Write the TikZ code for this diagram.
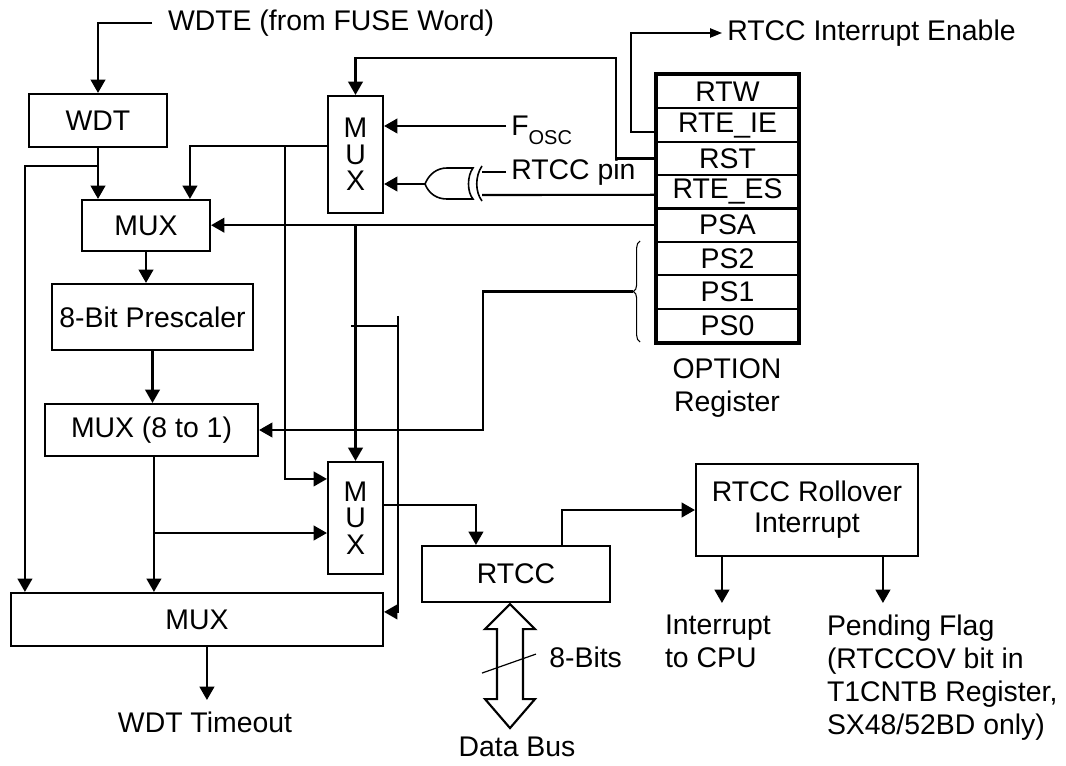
\documentclass[tikz,border=0pt]{standalone}
\usepackage{fontspec}
\setmainfont{Liberation Sans}
\usetikzlibrary{arrows.meta,calc,decorations.pathreplacing}

\tikzset{
  blk/.style={draw, line width=1.6pt, inner sep=0pt, align=center},
  lbl/.style={inner sep=0pt, outer sep=4pt, align=left},
  wire/.style={line width=1.6pt},
  thinwire/.style={line width=1pt},
  arr/.style={line width=1.6pt, -{Triangle[length=10pt,width=11pt]}},
  smallarr/.style={line width=1pt, -{Triangle[length=9pt,width=7pt]}},
  muxfont/.style={font=\fontsize{21.3}{20}\selectfont},
}

\begin{document}
\begin{tikzpicture}[x=0.75pt,y=-0.75pt,font=\fontsize{21.3}{24.8}\selectfont]
\useasboundingbox (0,0) rectangle (1066,766);
% blocks
\node[blk, minimum width=103.5pt, minimum height=39.75pt] (wdt) at (98,120.5) {WDT};
\node[blk, minimum width=96pt, minimum height=38.25pt] (mux1) at (146,225.5) {MUX};
\node[blk, minimum width=150.75pt, minimum height=49.5pt] (pre) at (152.5,317) {8-Bit Prescaler};
\node[blk, minimum width=159.75pt, minimum height=39pt] (mux8) at (151.5,430) {MUX (8 to 1)};
\node[blk, muxfont, minimum width=41.25pt, minimum height=87.75pt] (muxa) at (355.5,154.5) {M\\U\\X};
\node[blk, muxfont, minimum width=41.25pt, minimum height=84pt] (muxb) at (355.5,518) {M\\U\\X};
\node[blk, minimum width=279pt, minimum height=39.75pt] (muxw) at (197,619.5) {MUX};
\node[blk, minimum width=141pt, minimum height=42pt] (rtcc) at (516,574) {RTCC};
\node[blk, font=\fontsize{21.3}{23.3}\selectfont, minimum width=166.5pt, minimum height=69pt] (roll) at (807,510) {RTCC Rollover\\Interrupt};

% OPTION register
\foreach \t [count=\i] in {RTW,RTE\_IE,RST,RTE\_ES,PSA,PS2,PS1,PS0}
  \node[draw, line width=1.6pt, inner sep=0pt, minimum width=105.75pt, minimum height=25.03pt] (r\i) at (727.5,{75+33.375*(\i-0.5)}) {\t};
\draw[line width=2.4pt] (r1.north west) rectangle (r8.south east);
\node[align=center] (optl) at (727,388) {OPTION\\Register};

% labels
\node[lbl, anchor=west, outer sep=12pt] (wdte) at (152,23) {WDTE (from FUSE Word)};
\node[lbl, anchor=west] (fosc) at (506,126) {F\smash{\raisebox{-0.3em}{\fontsize{15}{15}\selectfont OSC}}};
\node[lbl, anchor=west] (pin) at (506,172) {RTCC pin};
\node[lbl, anchor=west] (rie) at (722,33) {RTCC Interrupt Enable};
\node[lbl, anchor=north, outer sep=9pt] (tmo) at (205,700) {WDT Timeout};
\node[lbl, anchor=north west, outer sep=9pt] (cpu) at (653,603) {Interrupt\\to CPU};
\node[lbl, anchor=north west, outer sep=9pt] (pend) at (815,603) {Pending Flag\\(RTCCOV bit in\\T1CNTB Register,\\SX48/52BD only)};
\node[lbl, anchor=west] (bits) at (544,657) {8-Bits};
\node (bus) at (517,747) {Data Bus};

% junctions
\coordinate (j1) at (98,166);
\coordinate (j2) at (285,147);
\coordinate (j3) at (155,533);
\coordinate (xo) at (425,184);
\coordinate (bt) at (633,291.5);
\coordinate (m8o) at ($(mux8.south west)+(110,0)$);
\coordinate (o1) at ($(roll.south west)+(27,0)$);
\coordinate (o2) at ($(roll.south west)+(188,0)$);
\coordinate (wo) at ($(muxw.south west)+(197,0)$);
\coordinate (db) at ($(rtcc.south)+(-6,1)$);

% WDT path
\draw[arr] (wdte.west) -| (wdt.north);
\draw[arr] (wdt.south) -- (wdt.south |- mux1.north);
\draw[arr] (j1) -| ($(muxw.north west)+(15,0)$);
\draw[arr] (mux1.south) -- (mux1.south |- pre.north);
\draw[arr] (pre.south) -- (pre.south |- mux8.north);
\draw[arr] (m8o) -- (m8o |- muxw.north);
\draw[arr] (j3) -- (j3 -| muxb.west);
\draw[arr] (wo) -- (wo |- tmo.north);

% clock source mux
\draw[arr] (r3.west) -| (616,58) -| (muxa.north);
\draw[arr] (fosc.west) -- (fosc.west -| muxa.east);
\draw[wire] (pin.west) -- (482,172);
\draw[wire] ($(r4.west)+(0,3)$) -- (482,195);
\draw[line width=1.2pt] (xo) .. controls (429,174) and (437,168) .. (447,168) -- (473,168)
  .. controls (467,176) and (467,192) .. (473,199) -- (447,199) .. controls (437,199) and (429,194) .. (xo);
\draw[line width=1.2pt] (482,166) .. controls (475,176) and (475,192) .. (482,201);
\draw[arr] (xo) -- (xo -| muxa.east);
\draw[arr] ($(muxa.north west)+(0,51)$) -| ($(mux1.north west)+(109,0)$);
\draw[arr] (j2) |- ($(muxb.north west)+(0,18)$);

% PSA and prescaler select
\draw[arr] (r5.west) -- (r5.west -| mux1.east);
\draw[arr] (muxb.north |- r5.west) -- (muxb.north);
\draw[wire] (351,326) -- (398,326);
\draw[arr] (398,316) |- ($(muxw.north east)+(0,20)$);
\draw[line width=0.8pt, decorate, decoration={brace, amplitude=5pt}] (640,342) -- (640,241);
\draw[arr] (bt) -| ($(mux8.east)+(224,0)$) -- (mux8.east);

% interrupt enable
\draw[smallarr] ($(r2.west)+(0,7)$) -| (631,33) -- (rie.west);

% RTCC and rollover
\draw[arr] ($(muxb.north east)+(0,44)$) -| ($(rtcc.north west)+(55,0)$);
\draw[arr] ($(rtcc.north west)+(141,0)$) |- (roll.west);
\draw[arr] (o1) -- (o1 |- cpu.north);
\draw[arr] (o2) -- (o2 |- pend.north);

% data bus
\draw[wire] (db) -- ++(25,25) -- ++(-12,0) -- ++(0,70) -- ++(12,0) -- ++(-25,29)
  -- ++(-25,-29) -- ++(12,0) -- ++(0,-70) -- ++(-12,0) -- cycle;
\draw[line width=0.9pt] ($(db)+(-28,69)$) -- ($(db)+(26,50)$);
\end{tikzpicture}
\end{document}
